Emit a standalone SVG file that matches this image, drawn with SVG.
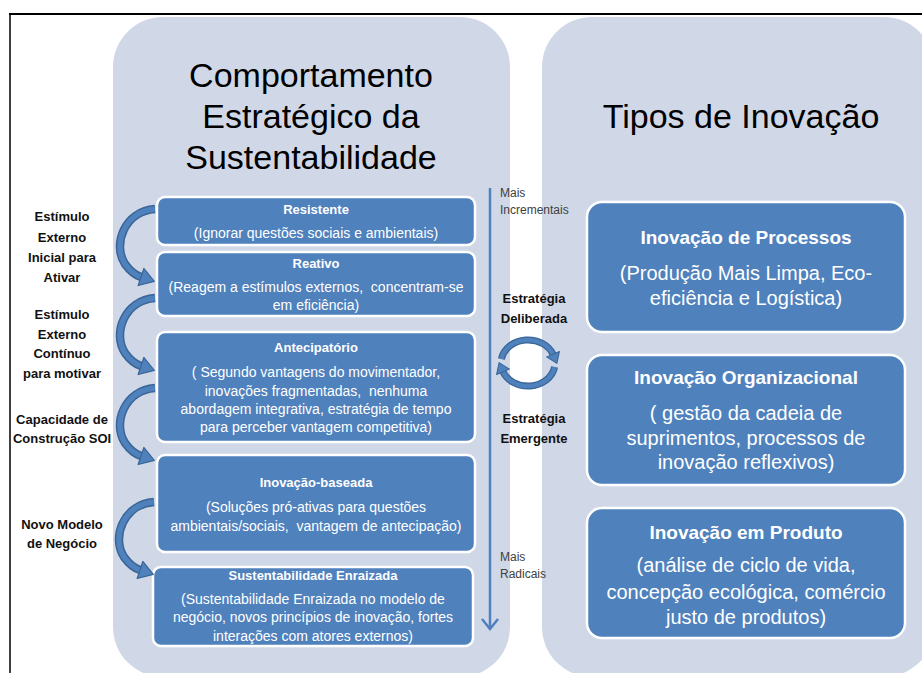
<svg xmlns="http://www.w3.org/2000/svg" width="922" height="673" viewBox="0 0 922 673">
<style>
text{font-family:"Liberation Sans",Arial,sans-serif;}
.panel{fill:#D0D8E8;}
.box{fill:#4F81BD;stroke:#FFFFFF;stroke-width:2.5;}
.ttl{font-size:34px;fill:#000;text-anchor:middle;}
.bt{font-size:13px;font-weight:bold;fill:#FFF;text-anchor:middle;}
.bb{font-size:14px;fill:#FFF;text-anchor:middle;}
.rt{font-size:19px;font-weight:bold;fill:#FFF;text-anchor:middle;}
.rb{font-size:20px;fill:#FFF;text-anchor:middle;}
.lab{font-size:13px;font-weight:bold;fill:#111;text-anchor:middle;}
.sm{font-size:12px;fill:#404040;}
.arcO{fill:none;stroke:#3A6596;stroke-width:8.5;}
.arcI{fill:none;stroke:#4F81BD;stroke-width:5.5;}
.ringO{fill:none;stroke:#3A6596;stroke-width:7;}
.ringI{fill:none;stroke:#4F81BD;stroke-width:4.5;}
</style>
<defs>
<marker id="headC" markerUnits="userSpaceOnUse" markerWidth="20" markerHeight="24" refX="0" refY="10" orient="auto" overflow="visible">
<path d="M0,1 L14,10 L0,19 Z" fill="#4F81BD" stroke="#3A6596" stroke-width="1.2" stroke-linejoin="round"/>
</marker>
<marker id="headR" markerUnits="userSpaceOnUse" markerWidth="14" markerHeight="18" refX="0" refY="8" orient="auto" overflow="visible">
<path d="M-1,1 L9,8 L-1,15 Z" fill="#4F81BD" stroke="#3A6596" stroke-width="1" stroke-linejoin="round"/>
</marker>
<marker id="headV" markerUnits="userSpaceOnUse" markerWidth="12" markerHeight="20" refX="10" refY="8" orient="auto" overflow="visible">
<path d="M0,0 L10,8 L0,16" fill="none" stroke="#4F81BD" stroke-width="2.5"/>
</marker>
<g id="carrow">
<path class="arcO" d="M0,0 C-30,2 -43,35 -30,55 C-25,62 -20,66 -14,68"/>
<path class="arcI" d="M0,0 C-30,2 -43,35 -30,55 C-25,62 -20,66 -14,68" marker-end="url(#headC)"/>
</g>
</defs>

<rect width="922" height="673" fill="#FFFFFF"/>
<line x1="9" y1="14" x2="922" y2="14" stroke="#000" stroke-width="2"/>
<line x1="10" y1="14" x2="10" y2="673" stroke="#000" stroke-width="1.5"/>

<g id="panel-left">
<rect class="panel" x="113" y="17" width="397" height="660" rx="50"/>
<text class="ttl" x="311" y="87">Comportamento</text>
<text class="ttl" x="311" y="128">Estratégico da</text>
<text class="ttl" x="311" y="169">Sustentabilidade</text>
</g>
<g id="panel-right">
<rect class="panel" x="542" y="17" width="392" height="660" rx="50"/>
<text class="ttl" x="741" y="128">Tipos de Inovação</text>
</g>

<g id="node-resistente">
<rect class="box" x="157" y="197" width="318" height="48" rx="8"/>
<text class="bt" x="316" y="214">Resistente</text>
<text class="bb" x="316" y="238">(Ignorar questões sociais e ambientais)</text>
</g>
<g id="node-reativo">
<rect class="box" x="157" y="252" width="318" height="64" rx="8"/>
<text class="bt" x="316" y="268">Reativo</text>
<text class="bb" x="316" y="292" xml:space="preserve">(Reagem a estímulos externos,  concentram-se</text>
<text class="bb" x="316" y="310">em eficiência)</text>
</g>
<g id="node-antecipatorio">
<rect class="box" x="157" y="332" width="318" height="110" rx="8"/>
<text class="bt" x="316" y="352">Antecipatório</text>
<text class="bb" x="316" y="377">( Segundo vantagens do movimentador,</text>
<text class="bb" x="316" y="396" xml:space="preserve">inovações fragmentadas,  nenhuma</text>
<text class="bb" x="316" y="414">abordagem integrativa, estratégia de tempo</text>
<text class="bb" x="316" y="432">para perceber vantagem competitiva)</text>
</g>
<g id="node-inovacao-baseada">
<rect class="box" x="157" y="455" width="318" height="97" rx="8"/>
<text class="bt" x="316" y="487">Inovação-baseada</text>
<text class="bb" x="316" y="512">(Soluções pró-ativas para questões</text>
<text class="bb" x="316" y="531" xml:space="preserve">ambientais/sociais,  vantagem de antecipação)</text>
</g>
<g id="node-sustentabilidade">
<rect class="box" x="153" y="567" width="320" height="79" rx="8"/>
<text class="bt" x="313" y="580">Sustentabilidade Enraizada</text>
<text class="bb" x="313" y="604">(Sustentabilidade Enraizada no modelo de</text>
<text class="bb" x="313" y="622">negócio, novos princípios de inovação, fortes</text>
<text class="bb" x="313" y="641">interações com atores externos)</text>
</g>

<g id="node-processos">
<rect class="box" x="587" y="202" width="318" height="130" rx="15"/>
<text class="rt" x="746" y="244">Inovação de Processos</text>
<text class="rb" x="746" y="280">(Produção Mais Limpa, Eco-</text>
<text class="rb" x="746" y="305">eficiência e Logística)</text>
</g>
<g id="node-organizacional">
<rect class="box" x="587" y="355" width="318" height="130" rx="15"/>
<text class="rt" x="746" y="384">Inovação Organizacional</text>
<text class="rb" x="746" y="420">( gestão da cadeia de</text>
<text class="rb" x="746" y="445">suprimentos, processos de</text>
<text class="rb" x="746" y="469">inovação reflexivos)</text>
</g>
<g id="node-produto">
<rect class="box" x="587" y="508" width="318" height="130" rx="15"/>
<text class="rt" x="746" y="539">Inovação em Produto</text>
<text class="rb" x="746" y="572">(análise de ciclo de vida,</text>
<text class="rb" x="746" y="599">concepção ecológica, comércio</text>
<text class="rb" x="746" y="624">justo de produtos)</text>
</g>

<g id="labels-left">
<text class="lab" x="62" y="221">Estímulo</text>
<text class="lab" x="62" y="242">Externo</text>
<text class="lab" x="62" y="262">Inicial para</text>
<text class="lab" x="62" y="282">Ativar</text>
<text class="lab" x="62" y="319">Estímulo</text>
<text class="lab" x="62" y="339">Externo</text>
<text class="lab" x="62" y="358">Contínuo</text>
<text class="lab" x="62" y="378">para motivar</text>
<text class="lab" x="62" y="424">Capacidade de</text>
<text class="lab" x="62" y="443">Construção SOI</text>
<text class="lab" x="62" y="529">Novo Modelo</text>
<text class="lab" x="62" y="548">de Negócio</text>
</g>

<g id="labels-middle">
<text class="sm" x="500" y="197">Mais</text>
<text class="sm" x="500" y="214">Incrementais</text>
<text class="lab" x="534" y="303">Estratégia</text>
<text class="lab" x="534" y="323">Deliberada</text>
<text class="lab" x="534" y="423">Estratégia</text>
<text class="lab" x="534" y="443">Emergente</text>
<text class="sm" x="500" y="561">Mais</text>
<text class="sm" x="500" y="578">Radicais</text>
</g>

<g id="connectors">
<use href="#carrow" transform="translate(155,209)"/>
<use href="#carrow" transform="translate(155,298)"/>
<use href="#carrow" transform="translate(155,388)"/>
<use href="#carrow" transform="translate(154,502)"/>
<line x1="490" y1="188" x2="490" y2="629" stroke="#4F81BD" stroke-width="2.5" marker-end="url(#headV)"/>
<path class="ringO" d="M501.4,359 A27,23 0 0 1 553.4,355.1"/>
<path class="ringI" d="M501.4,359 A27,23 0 0 1 553.4,355.1" marker-end="url(#headR)"/>
<path class="ringO" d="M554.6,367 A27,23 0 0 1 502.6,370.9"/>
<path class="ringI" d="M554.6,367 A27,23 0 0 1 502.6,370.9" marker-end="url(#headR)"/>
</g>
</svg>
